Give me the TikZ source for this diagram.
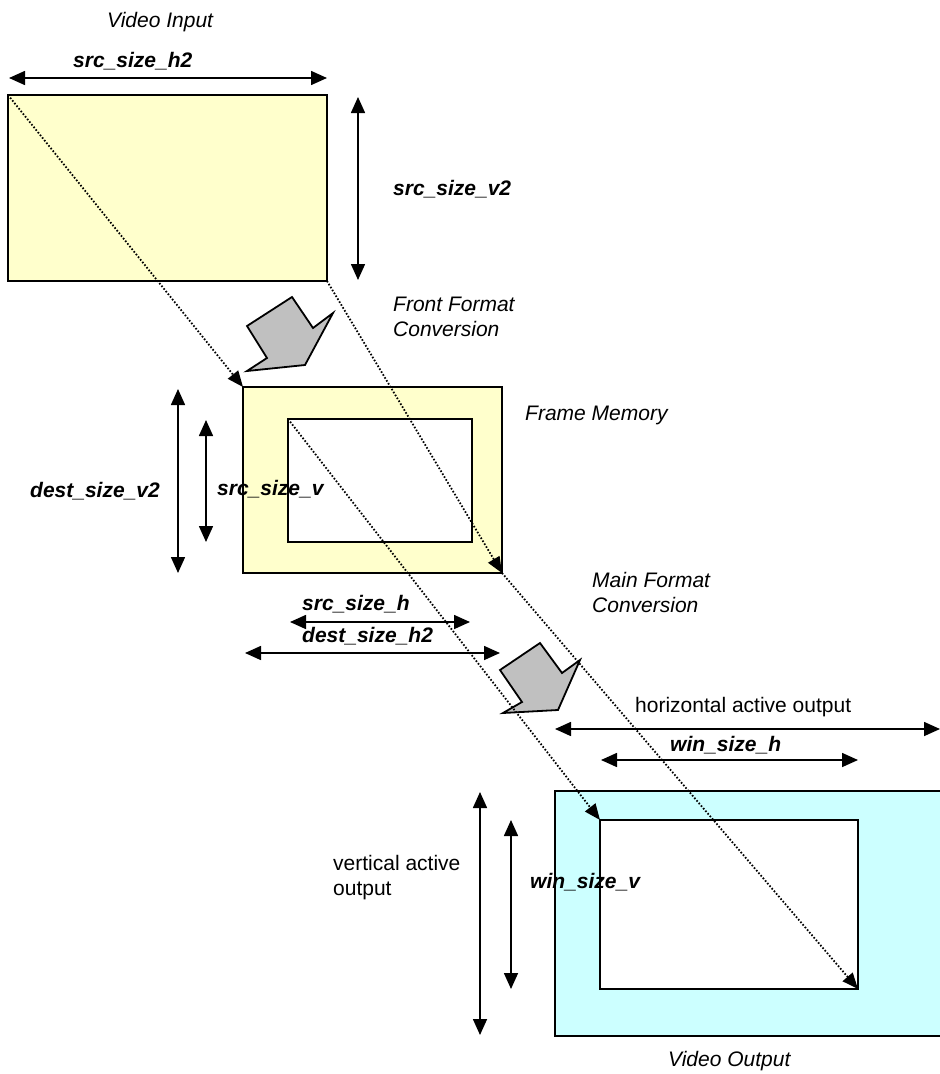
\documentclass[tikz,border=0pt]{standalone}
\usepackage{fontspec}
\setmainfont{Liberation Sans}
\usetikzlibrary{arrows.meta}
\definecolor{memyellow}{HTML}{FFFFCC}
\definecolor{outcyan}{HTML}{CCFFFF}
\definecolor{blockgray}{HTML}{C0C0C0}
\tikzset{
  txt/.style={anchor=base west, inner sep=0pt, font=\fontsize{21}{25}\selectfont},
  note/.style={txt, font=\fontsize{21}{25}\selectfont\itshape},
  sizelbl/.style={txt, font=\fontsize{21}{25}\selectfont\bfseries\itshape},
  measure/.style={line width=1.6pt, {Triangle[length=16pt,width=14pt]}-{Triangle[length=16pt,width=14pt]}},
  mapline/.style={line width=1.8pt, dash pattern=on 1.6pt off 1.8pt, -{Triangle[length=16pt,width=13pt]}},
  boxline/.style={line width=1.8pt},
  blockarrow/.style={fill=blockgray, draw=black, line width=1.8pt, line join=miter}
}
\begin{document}
\begin{tikzpicture}[x=1pt,y=-1pt]
  \clip (0,0) rectangle (940,1074);
  % corners of the three pictures
  \coordinate (in-tl) at (8,95);   \coordinate (in-br) at (327,281);
  \coordinate (fm-tl) at (243,387); \coordinate (fm-br) at (502,573);
  \coordinate (fw-tl) at (288,419); \coordinate (fw-br) at (472,542);
  \coordinate (out-tl) at (555,791); \coordinate (out-br) at (960,1036);
  \coordinate (ow-tl) at (600,820); \coordinate (ow-br) at (858,989);
  \filldraw [boxline, fill=memyellow] (in-tl) rectangle (in-br);
  \filldraw [boxline, fill=memyellow] (fm-tl) rectangle (fm-br);
  \filldraw [boxline, fill=white] (fw-tl) rectangle (fw-br);
  \filldraw [boxline, fill=outcyan] (out-tl) rectangle (out-br);
  \filldraw [boxline, fill=white] (ow-tl) rectangle (ow-br);
  % conversions
  \filldraw [blockarrow] (247,326) -- (292,297) -- (313,328) -- (333,313) -- (305,365) -- (247,371) -- (267,358) -- cycle;
  \filldraw [blockarrow] (500,670) -- (540,643) -- (562,673) -- (580,660) -- (558,710) -- (503,713) -- (522,702) -- cycle;
  \draw [mapline] (in-tl) -- (fm-tl);
  \draw [mapline] (in-br) -- (fm-br);
  \draw [mapline] (fw-tl) -- (ow-tl);
  \draw [mapline] (fm-br) -- (ow-br);
  % sizes
  \draw [measure] (9,78) -- (327,78);
  \draw [measure] (358,97) -- (358,280);
  \draw [measure] (178,389) -- (178,573);
  \draw [measure] (206,420) -- (206,542);
  \draw [measure] (290,622) -- (470,622);
  \draw [measure] (245,653) -- (500,653);
  \draw [measure] (555,729) -- (940,729);
  \draw [measure] (601,760) -- (858,760);
  \draw [measure] (480,792) -- (480,1035);
  \draw [measure] (511,820) -- (511,989);
  % texts
  \node [note] (vin) at (107,27) {Video Input};
  \node [sizelbl] (sh2) at (73,67) {src\_size\_h2};
  \node [sizelbl] (sv2) at (393,195) {src\_size\_v2};
  \node [note, align=left] (ffc) at (393,336) {Front Format\\Conversion};
  \node [note] (fmem) at (525,420) {Frame Memory};
  \node [sizelbl] (dv2) at (30,497) {dest\_size\_v2};
  \node [sizelbl] (sv) at (217,495) {src\_size\_v};
  \node [sizelbl] (sh) at (302,610) {src\_size\_h};
  \node [sizelbl] (dh2) at (302,642) {dest\_size\_h2};
  \node [note, align=left] (mfc) at (592,612) {Main Format\\Conversion};
  \node [txt] (hact) at (635,712) {horizontal active output};
  \node [sizelbl] (wh) at (670,751) {win\_size\_h};
  \node [txt, align=left] (vact) at (333,895) {vertical active\\output};
  \node [sizelbl] (wv) at (530,888) {win\_size\_v};
  \node [note] (vout) at (668,1066) {Video Output};
\end{tikzpicture}
\end{document}
